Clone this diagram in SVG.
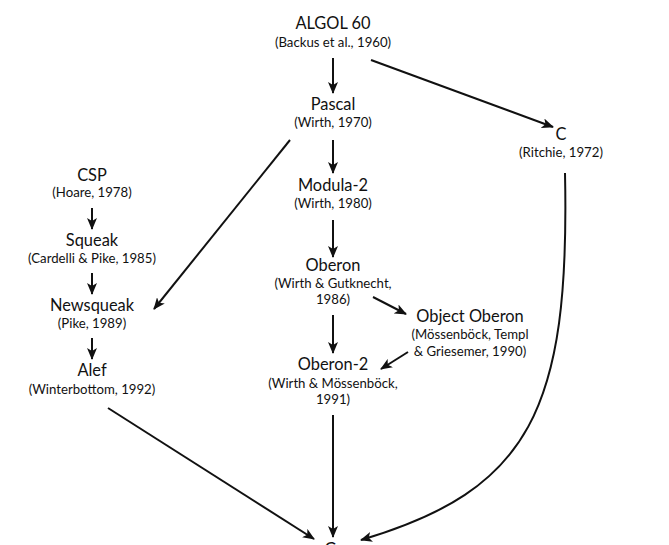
<svg xmlns="http://www.w3.org/2000/svg" width="669" height="545" viewBox="0 0 669 545">
<style>
.t{font-family:Lato,"Open Sans","Liberation Sans",sans-serif;font-size:16.4px;fill:#111;text-anchor:middle}
.s{font-family:Lato,"Open Sans","Liberation Sans",sans-serif;font-size:13.2px;fill:#111;text-anchor:middle}
.e{fill:none;stroke:#111;stroke-width:2}
</style>
<defs>
<marker id="a" viewBox="0 0 12 10" refX="11" refY="5" markerWidth="12" markerHeight="10" markerUnits="userSpaceOnUse" orient="auto">
<path d="M0,0 L12,5 L0,10 L3,5 z" fill="#111"/>
</marker>
</defs>
<rect width="669" height="545" fill="#fff"/>
<g id="connectors">
<path class="e" d="M333,58 L333,93" marker-end="url(#a)"/>
<path class="e" d="M371,60 L553,127" marker-end="url(#a)"/>
<path class="e" d="M333,140 L333,173" marker-end="url(#a)"/>
<path class="e" d="M333,220 L333,257" marker-end="url(#a)"/>
<path class="e" d="M290,140 L154,309" marker-end="url(#a)"/>
<path class="e" d="M92,208 L92,229" marker-end="url(#a)"/>
<path class="e" d="M92,273 L92,294" marker-end="url(#a)"/>
<path class="e" d="M92,338 L92,359" marker-end="url(#a)"/>
<path class="e" d="M373,297 L406,314" marker-end="url(#a)"/>
<path class="e" d="M408,352 L381,369" marker-end="url(#a)"/>
<path class="e" d="M333,315 L333,353" marker-end="url(#a)"/>
<path class="e" d="M333,415 L333,537" marker-end="url(#a)"/>
<path class="e" d="M108,408 L314,539" marker-end="url(#a)"/>
<path class="e" d="M565,173 C570,410 530,490 361,540" marker-end="url(#a)"/>
</g>
<g id="algol60"><text class="t" x="333" y="29">ALGOL 60</text><text class="s" x="333" y="47">(Backus et al., 1960)</text></g>
<g id="pascal"><text class="t" x="333" y="110">Pascal</text><text class="s" x="333" y="127">(Wirth, 1970)</text></g>
<g id="c"><text class="t" x="561" y="140">C</text><text class="s" x="561" y="157">(Ritchie, 1972)</text></g>
<g id="modula2"><text class="t" x="333" y="191">Modula-2</text><text class="s" x="333" y="208">(Wirth, 1980)</text></g>
<g id="oberon"><text class="t" x="333" y="271">Oberon</text><text class="s" x="333" y="288">(Wirth &amp; Gutknecht,</text><text class="s" x="333" y="304">1986)</text></g>
<g id="objectoberon"><text class="t" x="470" y="322">Object Oberon</text><text class="s" x="470" y="339">(Mössenböck, Templ</text><text class="s" x="470" y="356">&amp; Griesemer, 1990)</text></g>
<g id="oberon2"><text class="t" x="333" y="370">Oberon-2</text><text class="s" x="333" y="388">(Wirth &amp; Mössenböck,</text><text class="s" x="333" y="404">1991)</text></g>
<g id="csp"><text class="t" x="92" y="181">CSP</text><text class="s" x="92" y="197">(Hoare, 1978)</text></g>
<g id="squeak"><text class="t" x="92" y="246">Squeak</text><text class="s" x="92" y="263">(Cardelli &amp; Pike, 1985)</text></g>
<g id="newsqueak"><text class="t" x="92" y="311">Newsqueak</text><text class="s" x="92" y="328">(Pike, 1989)</text></g>
<g id="alef"><text class="t" x="92" y="376">Alef</text><text class="s" x="92" y="394">(Winterbottom, 1992)</text></g>
<g id="go"><text class="t" x="335" y="555">Go</text></g>
</svg>
